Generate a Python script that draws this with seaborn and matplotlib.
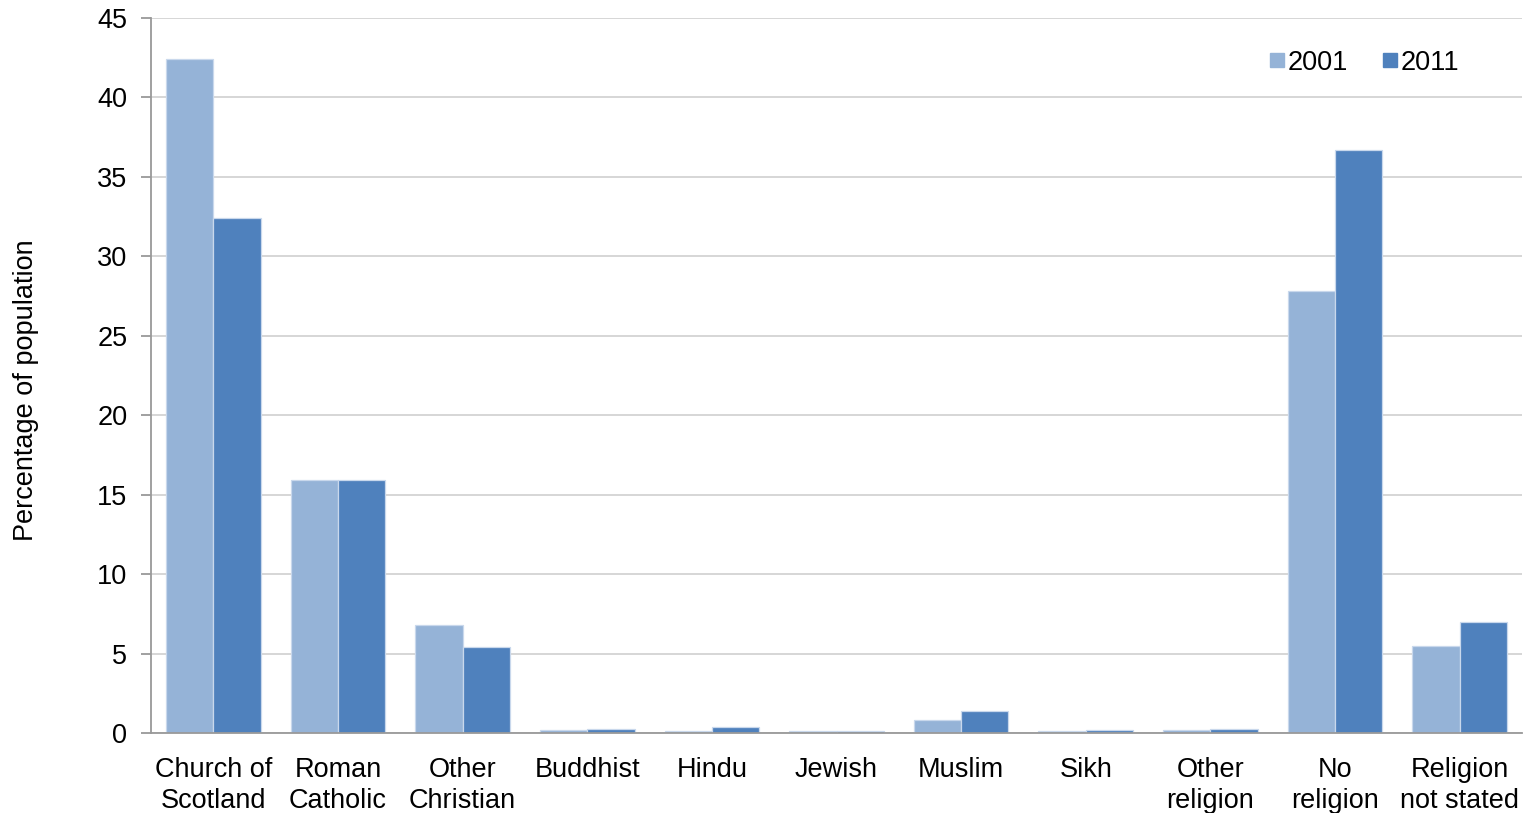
import matplotlib
matplotlib.use("Agg")
import matplotlib.pyplot as plt
import seaborn as sns
import pandas as pd
import numpy as np
from matplotlib.lines import Line2D

categories = ["Church of\nScotland", "Roman\nCatholic", "Other\nChristian", "Buddhist",
              "Hindu", "Jewish", "Muslim", "Sikh", "Other\nreligion", "No\nreligion",
              "Religion\nnot stated"]
values_2001 = [42.4, 15.9, 6.8, 0.17, 0.12, 0.12, 0.84, 0.12, 0.17, 27.8, 5.5]
values_2011 = [32.4, 15.9, 5.4, 0.25, 0.35, 0.12, 1.4, 0.2, 0.27, 36.7, 7.0]
years = ["2001", "2011"]
colors = ["#95B3D7", "#4F81BD"]

df = pd.DataFrame({
    "category": categories * 2,
    "value": values_2001 + values_2011,
    "year": [years[0]] * len(categories) + [years[1]] * len(categories),
})

sns.set_theme(style="white")
plt.rcParams["font.family"] = ["Liberation Sans", "DejaVu Sans"]
plt.rcParams["text.color"] = "black"
plt.rcParams["xtick.color"] = "black"
plt.rcParams["ytick.color"] = "black"
plt.rcParams["axes.labelcolor"] = "black"

fig = plt.figure(figsize=(15.24, 8.13), dpi=100)
ax = fig.add_axes([151/1524, 1 - 733/813, (1522-151)/1524, (733-18)/813])

sns.barplot(data=df, x="category", y="value", hue="year", palette=colors,
            width=0.76, ax=ax, legend=False, edgecolor="#c9d8ec", linewidth=0.9,
            saturation=1)

ax.set_ylim(0, 45)
ax.set_xlim(-0.5, len(categories) - 0.5)
ax.set_yticks(np.arange(0, 46, 5))
ax.yaxis.grid(True, color="#d0d0d0", linewidth=1.2)
ax.set_axisbelow(True)

for s in ["top", "right"]:
    ax.spines[s].set_visible(False)
for s in ["left", "bottom"]:
    ax.spines[s].set_color("#999999")
    ax.spines[s].set_linewidth(1.3)

fs = 19.5
ax.set_xticks(np.arange(len(categories)))
ax.set_xticklabels(categories, fontsize=fs, linespacing=1.25)
ax.set_xticks(np.arange(-0.5, len(categories) + 0.5, 1), minor=True)
ax.tick_params(axis="x", which="major", length=0, pad=17, labelcolor="black")
ax.tick_params(axis="x", which="minor", length=8, width=1.3, color="#999999", direction="out")
ax.tick_params(axis="y", labelsize=fs, length=7, width=1.3, color="#999999", direction="out",
               left=True, pad=10, labelcolor="black")

ax.set_xlabel("")
ax.set_ylabel("Percentage of population", fontsize=fs, labelpad=0)
ax.yaxis.set_label_coords(-112/1371, 0.48)

handles = [Line2D([0], [0], marker="s", linestyle="none", markersize=10,
                  markerfacecolor=c, markeredgecolor=c) for c in colors]
ax.legend(handles, years, loc="upper right", bbox_to_anchor=(0.972, 0.99), ncol=2,
          frameon=False, fontsize=fs, handletextpad=0.05, columnspacing=1.2,
          handlelength=0.7)

fig.savefig("out.png", dpi=100)
